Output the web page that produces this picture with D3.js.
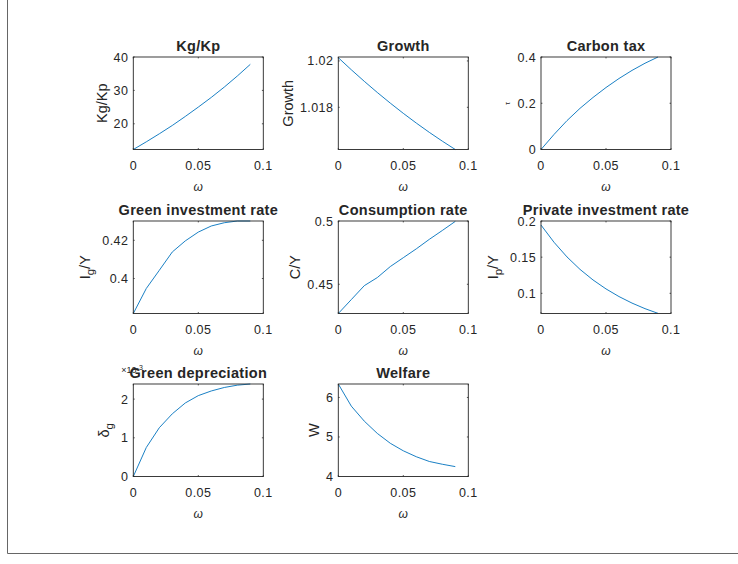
<!DOCTYPE html>
<html>
<head>
<meta charset="utf-8">
<script src="https://cdn.jsdelivr.net/npm/d3@7"></script>
<style>
  body { margin: 0; background: #fff; }
  text { font-family: "Liberation Sans", Arial, sans-serif; fill: #262626; }
</style>
</head>
<body>
<div id="fig"></div>
<script>

// omega grid (x of every panel)
var omega = [0, 0.01, 0.02, 0.03, 0.04, 0.05, 0.06, 0.07, 0.08, 0.09];
var xTicks = [0, 0.05, 0.1];
var xTickLabels = ["0", "0.05", "0.1"];

// series
var kgKp      = [12.3, 14.6, 17.0, 19.5, 22.2, 25.0, 27.9, 31.0, 34.3, 37.8];
var growth    = [1.02014, 1.01962, 1.01912, 1.01864, 1.01818, 1.01774, 1.01732, 1.01692, 1.01654, 1.01618];
var carbonTax = [0, 0.065, 0.125, 0.178, 0.225, 0.268, 0.307, 0.342, 0.373, 0.400];
var greenInv  = [0.3817, 0.3948, 0.4043, 0.4139, 0.4197, 0.4243, 0.4275, 0.4292, 0.4301, 0.4301];
var consRate  = [0.4269, 0.4379, 0.4489, 0.4553, 0.4640, 0.4710, 0.4780, 0.4855, 0.4925, 0.4997];
var privInv   = [0.1944, 0.1706, 0.1503, 0.1331, 0.1185, 0.1061, 0.0955, 0.0865, 0.0788, 0.0723];
var greenDep  = [0, 0.75, 1.26, 1.62, 1.90, 2.09, 2.21, 2.30, 2.36, 2.39];   // x 10^-3
var welfare   = [6.34, 5.78, 5.40, 5.09, 4.84, 4.65, 4.50, 4.38, 4.31, 4.25];

var titles = ["Kg/Kp", "Growth", "Carbon tax", "Green investment rate", "Consumption rate",
              "Private investment rate", "Green depreciation", "Welfare"];

// y limits and ticks per panel
var yDomains = [[12.3, 40], [1.01618, 1.02017], [0, 0.4], [0.3817, 0.4301], [0.4269, 0.5],
                [0.0721, 0.2], [0, 2.39], [4, 6.34]];
var yTicks = [[20, 30, 40], [1.018, 1.02], [0, 0.2, 0.4], [0.4, 0.42], [0.45, 0.5],
              [0.1, 0.15, 0.2], [0, 1, 2], [4, 5, 6]];
var yTickLabels = [["20", "30", "40"], ["1.018", "1.02"], ["0", "0.2", "0.4"], ["0.4", "0.42"],
                   ["0.45", "0.5"], ["0.1", "0.15", "0.2"], ["0", "1", "2"], ["4", "5", "6"]];

var series = [kgKp, growth, carbonTax, greenInv, consRate, privInv, greenDep, welfare];

var W = 738, H = 564;
var colX = [133.3, 338.3, 541];
var rowY = [57, 221, 384];
var axW = 130, axH = 92.5;
var tickLen = 1.4;
var tickFont = 12.5;

var svg = d3.select("#fig").append("svg")
            .attr("width", W).attr("height", H);

svg.append("rect").attr("width", W).attr("height", H).attr("fill", "#fff");

// figure frame (left + bottom edge)
svg.append("path")
   .attr("d", "M7.5,0 V553.5 H738")
   .attr("fill", "none").attr("stroke", "#666").attr("stroke-width", 1);

function yLabel(g, i) {
  // builds the rotated y label text with subscripts where needed
  var t = g.append("text").attr("font-size", 14.5).attr("text-anchor", "middle");
  if (i == 0) t.text("Kg/Kp");
  if (i == 1) t.text("Growth");
  if (i == 2) t.attr("font-size", 7).attr("fill", "#777").text("τ");
  if (i == 3) {
    t.append("tspan").text("I");
    t.append("tspan").attr("baseline-shift", "-30%").attr("font-size", 11.5).text("g");
    t.append("tspan").text("/Y");
  }
  if (i == 4) t.text("C/Y");
  if (i == 5) {
    t.append("tspan").text("I");
    t.append("tspan").attr("baseline-shift", "-30%").attr("font-size", 11.5).text("p");
    t.append("tspan").text("/Y");
  }
  if (i == 6) {
    t.append("tspan").text("δ");
    t.append("tspan").attr("baseline-shift", "-30%").attr("font-size", 11.5).text("g");
  }
  if (i == 7) t.text("W");
  return t;
}

series.forEach(function (vals, i) {

  var x0 = colX[i % 3], y0 = rowY[Math.floor(i / 3)];
  var g = svg.append("g").attr("transform", "translate(" + x0 + "," + y0 + ")");

  var xScale = d3.scaleLinear().domain([0, 0.1]).range([0, axW]);
  var yScale = d3.scaleLinear().domain(yDomains[i]).range([axH, 0]);

  var line = d3.line()
               .x(function (d, j) { return xScale(omega[j]); })
               .y(function (d) { return yScale(d); });

  g.append("rect")
   .attr("width", axW).attr("height", axH)
   .attr("fill", "#fff");

  g.append("path")
   .attr("d", line(vals))
   .attr("fill", "none")
   .attr("stroke", "#0072BD")
   .attr("stroke-width", 0.9);

  // inward ticks on all four sides
  xTicks.forEach(function (v) {
    var px = xScale(v);
    g.append("line").attr("x1", px).attr("x2", px).attr("y1", axH).attr("y2", axH - tickLen);
    g.append("line").attr("x1", px).attr("x2", px).attr("y1", 0).attr("y2", tickLen);
  });
  yTicks[i].forEach(function (v) {
    var py = yScale(v);
    g.append("line").attr("x1", 0).attr("x2", tickLen).attr("y1", py).attr("y2", py);
    g.append("line").attr("x1", axW).attr("x2", axW - tickLen).attr("y1", py).attr("y2", py);
  });
  g.selectAll("line").attr("stroke", "#262626").attr("stroke-width", 0.8);

  g.append("rect")
   .attr("width", axW).attr("height", axH)
   .attr("fill", "none").attr("stroke", "#262626").attr("stroke-width", 0.9);

  g.selectAll(".xtick")
   .data(xTicks)
   .enter().append("text")
   .attr("class", "xtick")
   .attr("x", function (d) { return xScale(d); })
   .attr("y", axH + 20)
   .attr("text-anchor", "middle")
   .attr("font-size", tickFont)
   .attr("letter-spacing", 0.4)
   .text(function (d, j) { return xTickLabels[j]; });

  var yt = g.selectAll(".ytick")
            .data(yTicks[i])
            .enter().append("text")
            .attr("class", "ytick")
            .attr("x", -5)
            .attr("y", function (d) { return yScale(d); })
            .attr("dy", "0.36em")
            .attr("text-anchor", "end")
            .attr("font-size", tickFont)
            .attr("letter-spacing", 0.4)
            .text(function (d, j) { return yTickLabels[i][j]; });

  var maxW = d3.max(yt.nodes(), function (n) { return n.getBBox().width; });

  g.append("text")
   .attr("x", axW / 2)
   .attr("y", axH + 41)
   .attr("text-anchor", "middle")
   .attr("font-size", 12)
   .attr("font-style", "italic")
   .attr("fill", "#555")
   .text("ω");

  if (i == 6) {
    // axis exponent, mostly hidden behind the title like in the original
    var ex = g.append("text").attr("x", -12).attr("y", -11).attr("font-size", 9);
    ex.append("tspan").text("×10");
    ex.append("tspan").attr("baseline-shift", "super").attr("font-size", 7).text("-3");
  }

  var yl = yLabel(g, i);
  var sub = (i == 3 || i == 5 || i == 6);
  var lx = -5 - maxW - (sub ? 12 : 7);
  yl.attr("transform", "translate(" + lx + "," + (axH / 2) + ") rotate(-90)");

  g.append("text")
   .attr("x", axW / 2)
   .attr("y", -6)
   .attr("text-anchor", "middle")
   .attr("font-size", 14.5)
   .attr("letter-spacing", 0.3)
   .attr("font-weight", "bold")
   .attr("fill", "#000")
   .text(titles[i]);

});

</script>
</body>
</html>
